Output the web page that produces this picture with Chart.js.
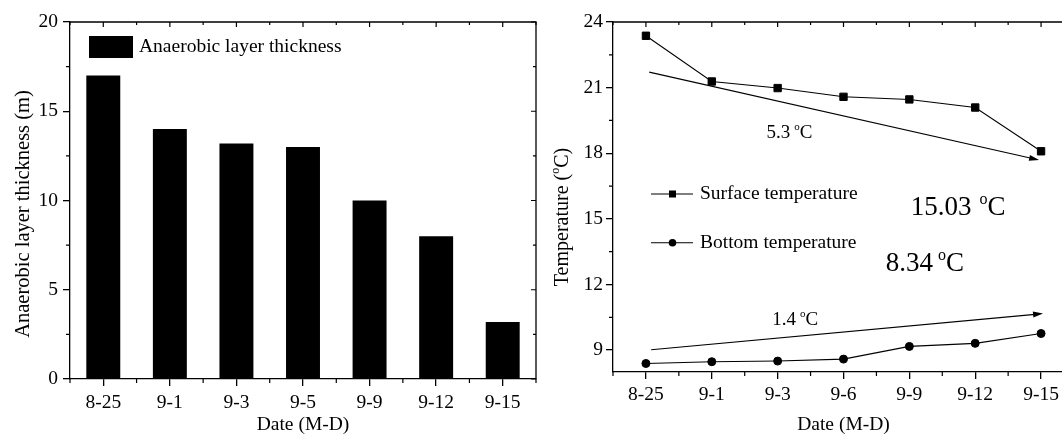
<!DOCTYPE html>
<html><head><meta charset="utf-8">
<script src="https://cdn.jsdelivr.net/npm/chart.js@4.4.1/dist/chart.umd.min.js"></script>
<style>
html,body{margin:0;padding:0;background:#fff;overflow:hidden;width:1062px;height:435px;position:relative}
#c1{position:absolute;left:0;top:0}
#c2{position:absolute;left:537px;top:0}
</style></head><body>
<canvas id="c1" width="540" height="435" style="width:540px;height:435px"></canvas>
<canvas id="c2" width="545" height="435" style="width:545px;height:435px"></canvas>
<script>
// ---- data ----
const dates1 = ['8-25', '9-1', '9-3', '9-5', '9-9', '9-12', '9-15'];
const thickness = [17, 14, 13.2, 13, 10, 8, 3.2];
const thicknessTicks = [0, 5, 10, 15, 20];
const thicknessMinor = [2.5, 7.5, 12.5, 17.5];

const dates2 = ['8-25', '9-1', '9-3', '9-6', '9-9', '9-12', '9-15'];
const surfaceTemp = [23.37, 21.28, 20.98, 20.58, 20.46, 20.09, 18.09];
const bottomTemp = [8.39, 8.47, 8.50, 8.59, 9.17, 9.31, 9.76];
const tempTicks = [9, 12, 15, 18, 21, 24];
const tempMinor = [10.5, 13.5, 16.5, 19.5, 22.5];

// trend arrows (category index, value)
const surfaceTrendFrom = [0.05, 21.71];
const surfaceTrendTo = [5.97, 17.69];
const bottomTrendFrom = [0.08, 9.02];
const bottomTrendTo = [6.03, 10.67];

// annotation texts
const noteTexts = ['5.3', '1.4', '15.03', '8.34'];
const noteAnchorX = [1.83, 1.92, 4.02, 3.64];
const noteAnchorY = [18.72, 10.14, 15.17, 12.62];

const FONT = "'Liberation Serif','Times New Roman',serif";
const noteStyle = [
  {size: 19, gap: 4}, {size: 19, gap: 4}, {size: 27, gap: 8}, {size: 27, gap: 5}
];

function drawDeg(ctx, x, y, pre, size, gap, post) {
  ctx.font = size + 'px ' + FONT;
  ctx.fillText(pre, x, y);
  let w = ctx.measureText(pre).width + gap;
  const ss = Math.round(size * 0.6);
  ctx.font = ss + 'px ' + FONT;
  ctx.fillText('o', x + w, y - size * 0.42);
  w += ctx.measureText('o').width;
  ctx.font = size + 'px ' + FONT;
  ctx.fillText(post, x + w, y);
  return w + ctx.measureText(post).width;
}

function framePlugin(yMajor, yMinor) {
  return {
    id: 'frame',
    afterDraw(chart) {
      const {ctx, chartArea: a, scales: {x, y}} = chart;
      ctx.save();
      ctx.strokeStyle = '#000';
      ctx.lineWidth = 1.3;
      ctx.beginPath();
      ctx.moveTo(a.left, a.top); ctx.lineTo(a.right, a.top); ctx.lineTo(a.right, a.bottom);
      ctx.stroke();
      ctx.lineWidth = 1.2;
      ctx.beginPath();
      const n = x.getLabels().length;
      for (let k = -1; k <= 2 * n - 1; k++) {
        const i = k / 2;
        const px = x.getPixelForValue(i);
        const major = (k % 2 === 0);
        if (!major) { ctx.moveTo(px, a.bottom); ctx.lineTo(px, a.bottom + 4); }
        ctx.moveTo(px, a.top); ctx.lineTo(px, a.top + (major ? 5 : 3));
      }
      for (const v of yMinor) {
        const py = y.getPixelForValue(v);
        ctx.moveTo(a.left, py); ctx.lineTo(a.left - 4, py);
        ctx.moveTo(a.right, py); ctx.lineTo(a.right - 3, py);
      }
      for (const v of yMajor) {
        const py = y.getPixelForValue(v);
        ctx.moveTo(a.right, py); ctx.lineTo(a.right - 5, py);
      }
      ctx.stroke();
      ctx.restore();
    }
  };
}

function axisCommon() {
  return {
    grid: {display: true, drawOnChartArea: false, drawTicks: true, tickLength: 7, color: '#000', lineWidth: 1.3, offset: false},
    border: {display: true, color: '#000', width: 1.3}
  };
}

// ---- left chart ----
const leftDecor = {
  id: 'leftDecor',
  afterDraw(chart) {
    const ctx = chart.ctx;
    ctx.save();
    ctx.fillStyle = '#000';
    // legend
    ctx.fillRect(89, 36, 44, 22);
    ctx.font = '19.5px ' + FONT;
    ctx.textBaseline = 'middle';
    ctx.textAlign = 'left';
    ctx.fillText(chart.data.datasets[0].label, 139, 47);
    // y title
    ctx.translate(24, 214);
    ctx.rotate(-Math.PI / 2);
    ctx.textAlign = 'center';
    ctx.font = '20.5px ' + FONT;
    ctx.fillText('Anaerobic layer thickness (m)', 0, 0);
    ctx.restore();
  }
};

new Chart(document.getElementById('c1'), {
  type: 'bar',
  data: {
    labels: dates1,
    datasets: [{label: 'Anaerobic layer thickness', data: thickness, backgroundColor: '#000', borderWidth: 0,
      barPercentage: 0.51, categoryPercentage: 1}]
  },
  options: {
    responsive: false, animation: false,
    layout: {padding: {top: 22, right: 4, bottom: 0, left: 0}},
    plugins: {legend: {display: false}, tooltip: {enabled: false}},
    scales: {
      x: Object.assign(axisCommon(), {
        offset: true,
        ticks: {color: '#000', font: {family: FONT, size: 19.5}, padding: 5, autoSkip: false, maxRotation: 0},
        title: {display: true, text: 'Date (M-D)', color: '#000', font: {family: FONT, size: 19.5}, padding: {top: 0, bottom: -2}},
        afterFit: s => { s.height = 56; }
      }),
      y: Object.assign(axisCommon(), {
        min: 0, max: 20,
        afterBuildTicks: s => { s.ticks = thicknessTicks.map(v => ({value: v})); },
        ticks: {color: '#000', font: {family: FONT, size: 19.5}, padding: 5},
        afterFit: s => { s.width = 70; }
      })
    }
  },
  plugins: [framePlugin(thicknessTicks, thicknessMinor), leftDecor]
});

// ---- right chart ----
function arrow(ctx, x, y, from, to) {
  const x1 = x.getPixelForValue(from[0]), y1 = y.getPixelForValue(from[1]);
  const x2 = x.getPixelForValue(to[0]), y2 = y.getPixelForValue(to[1]);
  const ang = Math.atan2(y2 - y1, x2 - x1);
  ctx.beginPath();
  ctx.moveTo(x1, y1); ctx.lineTo(x2 - 8 * Math.cos(ang), y2 - 8 * Math.sin(ang));
  ctx.stroke();
  ctx.beginPath();
  ctx.moveTo(x2, y2);
  ctx.lineTo(x2 - 10 * Math.cos(ang) + 3 * Math.sin(ang), y2 - 10 * Math.sin(ang) - 3 * Math.cos(ang));
  ctx.lineTo(x2 - 10 * Math.cos(ang) - 3 * Math.sin(ang), y2 - 10 * Math.sin(ang) + 3 * Math.cos(ang));
  ctx.closePath();
  ctx.fill();
}

const rightDecor = {
  id: 'rightDecor',
  afterDraw(chart) {
    const {ctx, scales: {x, y}} = chart;
    ctx.save();
    ctx.strokeStyle = '#000'; ctx.fillStyle = '#000'; ctx.lineWidth = 1.1;
    arrow(ctx, x, y, surfaceTrendFrom, surfaceTrendTo);
    arrow(ctx, x, y, bottomTrendFrom, bottomTrendTo);
    // annotations
    ctx.textBaseline = 'alphabetic'; ctx.textAlign = 'left';
    noteTexts.forEach((t, i) => {
      drawDeg(ctx, x.getPixelForValue(noteAnchorX[i]), y.getPixelForValue(noteAnchorY[i]), t, noteStyle[i].size, noteStyle[i].gap, 'C');
    });
    // legend
    const ds = chart.data.datasets;
    const rows = [194, 242.7];
    ds.forEach((d, i) => {
      const yy = rows[i];
      ctx.lineWidth = 1.1;
      ctx.beginPath(); ctx.moveTo(114, yy); ctx.lineTo(156, yy); ctx.stroke();
      if (d.pointStyle === 'rect') ctx.fillRect(132, yy - 3.5, 7, 7);
      else { ctx.beginPath(); ctx.arc(135.5, yy, 3.8, 0, Math.PI * 2); ctx.fill(); }
      ctx.font = '19.5px ' + FONT; ctx.textBaseline = 'middle';
      ctx.fillText(d.label, 163, yy);
    });
    // y title
    ctx.translate(25.7, 217);
    ctx.rotate(-Math.PI / 2);
    ctx.textBaseline = 'middle';
    ctx.font = '20px ' + FONT;
    const pre = 'Temperature (';
    const w1 = ctx.measureText(pre).width;
    ctx.font = '12px ' + FONT;
    const w2 = ctx.measureText('o').width;
    ctx.font = '20px ' + FONT;
    const w3 = ctx.measureText('C)').width;
    let sx = -(w1 + w2 + w3) / 2;
    ctx.fillText(pre, sx, 0);
    ctx.font = '12px ' + FONT;
    ctx.fillText('o', sx + w1, -7);
    ctx.font = '20px ' + FONT;
    ctx.fillText('C)', sx + w1 + w2, 0);
    ctx.restore();
  }
};

new Chart(document.getElementById('c2'), {
  type: 'line',
  data: {
    labels: dates2,
    datasets: [
      {label: 'Surface temperature', data: surfaceTemp, borderColor: '#000', borderWidth: 1.1, backgroundColor: '#000',
        pointStyle: 'rect', pointRadius: 5.2, pointBorderWidth: 1, pointBorderColor: '#000', pointBackgroundColor: '#000', tension: 0},
      {label: 'Bottom temperature', data: bottomTemp, borderColor: '#000', borderWidth: 1.1, backgroundColor: '#000',
        pointStyle: 'circle', pointRadius: 4, pointBorderWidth: 1, pointBorderColor: '#000', pointBackgroundColor: '#000', tension: 0}
    ]
  },
  options: {
    responsive: false, animation: false,
    layout: {padding: {top: 22, right: 8, bottom: 0, left: 0}},
    plugins: {legend: {display: false}, tooltip: {enabled: false}},
    scales: {
      x: Object.assign(axisCommon(), {
        offset: true,
        ticks: {color: '#000', font: {family: FONT, size: 19.5}, padding: 4, autoSkip: false, maxRotation: 0},
        title: {display: true, text: 'Date (M-D)', color: '#000', font: {family: FONT, size: 19.5}, padding: {top: 0, bottom: -2}},
        afterFit: s => { s.height = 63; }
      }),
      y: Object.assign(axisCommon(), {
        min: 8, max: 24,
        afterBuildTicks: s => { s.ticks = tempTicks.map(v => ({value: v})); },
        ticks: {color: '#000', font: {family: FONT, size: 19.5}, padding: 3},
        afterFit: s => { s.width = 76; }
      })
    }
  },
  plugins: [framePlugin(tempTicks, tempMinor), rightDecor]
});
</script></body></html>
